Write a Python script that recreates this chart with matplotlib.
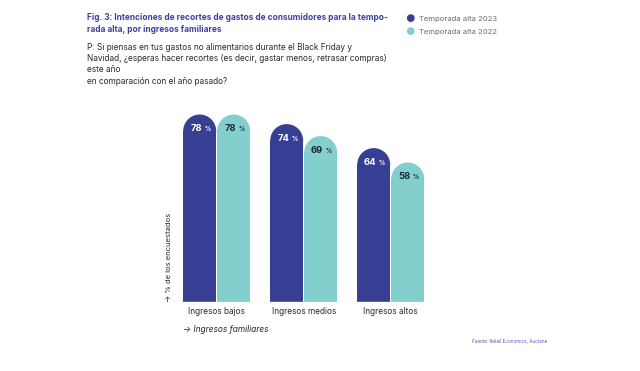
import numpy as np
import matplotlib.pyplot as plt
from matplotlib.patches import Ellipse

plt.rcParams['font.family'] = ['Inter', 'DejaVu Sans']

categories = ['Ingresos bajos', 'Ingresos medios', 'Ingresos altos']
series_names = ['Temporada alta 2023', 'Temporada alta 2022']
values_2023 = [78, 74, 64]
values_2022 = [78, 69, 58]

dark = '#373F94'
light = '#83CFCD'
title_col = '#3E40A0'
text_col = '#2A2A2A'

W, H = 640, 371
fig = plt.figure(figsize=(6.4, 3.71), dpi=100)


def fx(x):
    return x / W


def fy(y):
    return 1 - y / H


# axes placed in pixel terms
ax_left, ax_right = 170, 440
ax_top, ax_bot = 100, 301.7
px_per_unit_x = 87.0
px_per_unit_y = 2.4
g0 = 216.7
ax = fig.add_axes([fx(ax_left), fy(ax_bot), (ax_right - ax_left) / W, (ax_bot - ax_top) / H])
ax.set_xlim((ax_left - g0) / px_per_unit_x, (ax_right - g0) / px_per_unit_x)
ax.set_ylim(0, (ax_bot - ax_top) / px_per_unit_y)
ax.axis('off')

bw = 33 / px_per_unit_x
off = 17 / px_per_unit_x
r_y = (33 / 2) / px_per_unit_y
x = np.arange(len(categories))

for vals, col, sign, tcol in [(values_2023, dark, -1, 'white'), (values_2022, light, 1, '#1c2a3a')]:
    xs = x + sign * off
    ax.bar(xs, [v - r_y for v in vals], width=bw, color=col, linewidth=0)
    for xi, v in zip(xs, vals):
        ax.add_patch(Ellipse((xi, v - r_y), bw, 2 * r_y, color=col, linewidth=0))
        ax.text(xi + 0.03, v - 14 / px_per_unit_y, f'{v}', ha='right', va='center',
                fontsize=6.8, fontweight='bold', color=tcol)
        ax.text(xi + 0.05, v - 14.5 / px_per_unit_y, '%', ha='left', va='center',
                fontsize=4.4, fontweight='bold', color=tcol)

ax.hlines(0, x[0] - off - bw / 2, x[-1] + off + bw / 2, color='#e3e3e3', linewidth=1)

for xi, c in zip(x, categories):
    ax.text(xi, -10 / px_per_unit_y, c, ha='center', va='center', fontsize=6, color=text_col)

# titles
fig.text(fx(87), fy(17), 'Fig. 3: Intenciones de recortes de gastos de consumidores para la tempo-',
         fontsize=6.0, fontweight='bold', color=title_col, va='center')
fig.text(fx(87), fy(29.5), 'rada alta, por ingresos familiares',
         fontsize=6.0, fontweight='bold', color=title_col, va='center')
q_lines = ['P: Si piensas en tus gastos no alimentarios durante el Black Friday y',
           'Navidad, ¿esperas hacer recortes (es decir, gastar menos, retrasar compras)',
           'este año',
           'en comparación con el año pasado?']
for i, ln in enumerate(q_lines):
    fig.text(fx(87), fy(47 + i * 11.5), ln, fontsize=5.95, color=text_col, va='center')

# legend
for i, (name, col) in enumerate(zip(series_names, [dark, light])):
    yy = 19 + i * 13.3
    fig.text(fx(405.5), fy(yy), '●', fontsize=7.5, color=col, va='center', ha='left')
    fig.text(fx(419), fy(yy), name, fontsize=5.5, color='#6a6a6a', va='center')

# axis titles
fig.text(fx(169), fy(302), '→ % de los encuestados', rotation=90, fontsize=5.5,
         color=text_col, va='bottom', ha='center')
fig.text(fx(183), fy(329), '→ Ingresos familiares', fontsize=6, style='italic',
         color=text_col, va='center')

fig.text(fx(472), fy(342), 'Fuente: Retail Economics, Auctane', fontsize=3.3,
         color='#5558b0', va='center')

fig.savefig('out.png', dpi=100)
